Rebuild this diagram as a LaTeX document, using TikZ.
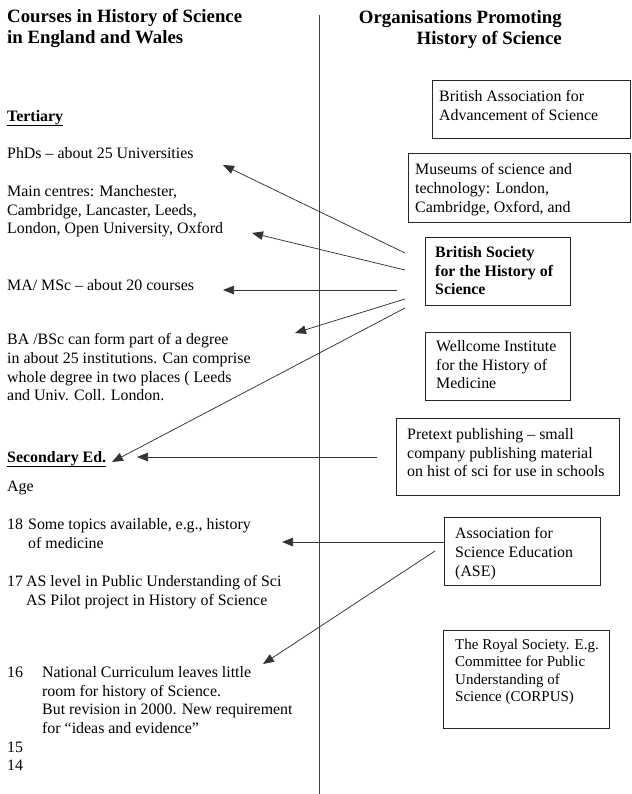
\documentclass[tikz,border=0pt]{standalone}
\usepackage{fontspec}
\setmainfont{Liberation Serif}
\usetikzlibrary{arrows.meta}

\tikzstyle{body}=[inner sep=0pt, align=left, font=\fontsize{15.9}{18.6}\selectfont]
\tikzstyle{small body}=[inner sep=0pt, align=left, font=\fontsize{15}{17.3}\selectfont]
\tikzstyle{title}=[inner sep=0pt, font=\fontsize{18.8}{21.5}\selectfont\bfseries]
\tikzstyle{org box}=[draw=black!85, line width=0.8pt, inner sep=0pt, anchor=north west]
\tikzstyle{link}=[draw=black!80, line width=0.75pt, -{Triangle[length=11pt,width=8.5pt]}]
\tikzstyle{rule}=[draw=black!75, line width=0.8pt]

\begin{document}
\begin{tikzpicture}[x=1pt, y=-1pt]
	\useasboundingbox[fill=white] (0,0) rectangle (631,794);

	% Headings
	\node[title, align=left, anchor=north west] (courses) at (7,9) {Courses in History of Science\\in England and Wales};
	\node[title, align=right, anchor=north east] (orgs) at (562,10) {Organisations Promoting\\History of Science};
	\coordinate (div top) at (319,15);
	\coordinate (div bot) at (319,794);
	\draw[rule] (div top) -- (div bot);

	% Tertiary courses
	\node[body, font=\fontsize{15.9}{18.6}\selectfont\bfseries, anchor=base west] (tertiary) at (7,122) {Tertiary};
	\draw[line width=0.9pt] ([yshift=-3.5pt]tertiary.base west) -- ([yshift=-3.5pt]tertiary.base east);
	\node[body, anchor=base west] (phd) at (7,159) {PhDs -- about 25 Universities};
	\node[body, anchor=north west] (centres) at (7,185.5) {Main centres: Manchester,\\Cambridge, Lancaster, Leeds,\\London, Open University, Oxford};
	\node[body, anchor=base west] (ma) at (7,290.5) {MA/ MSc -- about 20 courses};
	\node[body, anchor=north west] (ba) at (7,333.5) {BA /BSc can form part of a degree\\in about 25 institutions. Can comprise\\whole degree in two places ( Leeds\\and Univ. Coll. London.};

	% Secondary education
	\node[body, font=\fontsize{15.9}{18.6}\selectfont\bfseries, anchor=base west] (secondary) at (7,462.5) {Secondary Ed.};
	\draw[line width=0.9pt] ([yshift=-3.5pt]secondary.base west) -- ([yshift=-3.5pt]secondary.base east);
	\node[body, anchor=base west] (age) at (7,491.5) {Age};
	\node[body, anchor=base west] (age18) at (7,529.5) {18};
	\node[body, anchor=north west] (topics) at (28,518.5) {Some topics available, e.g., history\\of medicine};
	\node[body, anchor=base west] (age17) at (7,586.5) {17};
	\node[body, anchor=north west] (aslevel) at (26,575.5) {AS level in Public Understanding of Sci\\AS Pilot project in History of Science};
	\node[body, anchor=base west] (age16) at (7,677.5) {16};
	\node[body, anchor=north west] (natcurr) at (42,666.5) {National Curriculum leaves little\\room for history of Science.\\But revision in 2000. New requirement\\for ``ideas and evidence''};
	\foreach \a/\y in {15/752.5, 14/770.5}{ \node[body, anchor=base west] (age\a) at (7,\y) {\a}; }

	% Organisations
	\node[org box, minimum width=198pt, minimum height=58pt] (bafas) at (432,80) {};
	\node[body, anchor=north west] (bafas text) at (439,90.5) {British Association for\\Advancement of Science};
	\node[org box, minimum width=222pt, minimum height=69pt] (museums) at (408,153) {};
	\node[body, anchor=north west] (museums text) at (415,163.5) {Museums of science and\\technology: London,\\Cambridge, Oxford, and};
	\node[org box, minimum width=145pt, minimum height=68pt] (bshs) at (425,237) {};
	\node[body, font=\fontsize{15.9}{18.6}\selectfont\bfseries, anchor=north west] (bshs text) at (435,246.5) {British Society\\for the History of\\Science};
	\node[org box, minimum width=145pt, minimum height=68pt] (wellcome) at (425,332) {};
	\node[body, anchor=north west] (wellcome text) at (436,340.5) {Wellcome Institute\\for the History of\\Medicine};
	\node[org box, minimum width=223pt, minimum height=77pt] (pretext) at (396,418) {};
	\node[body, anchor=north west] (pretext text) at (407,428.5) {Pretext publishing -- small\\company publishing material\\on hist of sci for use in schools};
	\node[org box, minimum width=156pt, minimum height=68pt] (ase) at (444,517) {};
	\node[body, anchor=north west] (ase text) at (455,527.5) {Association for\\Science Education\\(ASE)};
	\node[org box, minimum width=166pt, minimum height=98pt] (royal) at (443,630) {};
	\node[small body, anchor=north west] (royal text) at (455,639) {The Royal Society. E.g.\\Committee for Public\\Understanding of\\Science (CORPUS)};

	% Arrows from the organisations to the courses
	\coordinate (bshs a) at (405,253);  \coordinate (phd tip) at (223,165);
	\coordinate (bshs b) at (405,270);  \coordinate (centres tip) at (252,233);
	\coordinate (bshs c) at (397,290);  \coordinate (ma tip) at (223,290);
	\coordinate (bshs d) at (405,299);  \coordinate (ba tip) at (295,333);
	\coordinate (bshs e) at (405,308);  \coordinate (secondary tip) at (112,462);
	\coordinate (pretext a) at (377,457); \coordinate (pretext tip) at (137,457);
	\coordinate (ase a) at (444,542);   \coordinate (topics tip) at (282,542);
	\coordinate (ase b) at (435,551);   \coordinate (natcurr tip) at (263,664);
	\draw[link] (bshs a) -- (phd tip);
	\draw[link] (bshs b) -- (centres tip);
	\draw[link] (bshs c) -- (ma tip);
	\draw[link] (bshs d) -- (ba tip);
	\draw[link] (bshs e) -- (secondary tip);
	\draw[link] (pretext a) -- (pretext tip);
	\draw[link] (ase a) -- (topics tip);
	\draw[link] (ase b) -- (natcurr tip);
\end{tikzpicture}
\end{document}
